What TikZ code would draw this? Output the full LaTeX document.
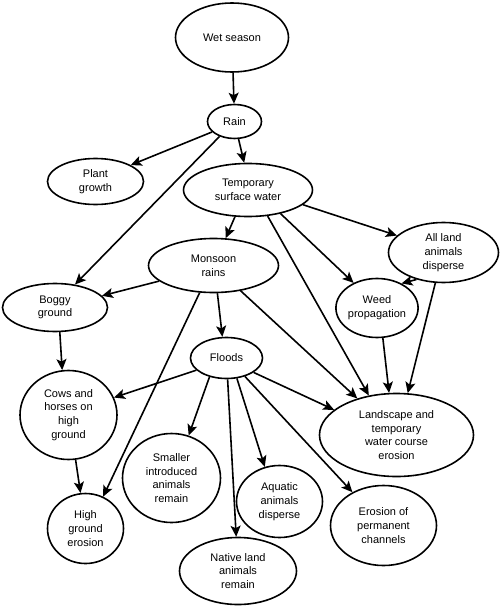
\documentclass[tikz,border=0pt]{standalone}
\usepackage{fontspec}
\setmainfont{Liberation Sans}
\usetikzlibrary{shapes.geometric,arrows.meta}

\begin{document}
\begin{tikzpicture}[x=1pt, y=-1pt, >={Stealth[length=11pt,width=10pt,inset=2.5pt]}, line width=1.6pt,
  every node/.style={ellipse, draw, inner sep=0pt, align=center, font=\fontsize{11}{13.7}\selectfont}]
  \useasboundingbox (0,0) rectangle (500,607);

  % --- upper part ---
  \node[minimum width=113pt, minimum height=69pt] (wet) at (232,37.5) {Wet season};
  \node[minimum width=54pt, minimum height=34pt] (rain) at (234.5,121.5) {Rain};
  \node[minimum width=96pt, minimum height=46pt] (plant) at (95.5,181.5) {Plant\\growth};
  \node[minimum width=129pt, minimum height=53pt] (temp) at (248,190) {Temporary\\surface water};
  \node[minimum width=110pt, minimum height=60pt] (alland) at (443.5,252.5) {All land\\animals\\disperse};
  \node[minimum width=130pt, minimum height=54pt] (monsoon) at (213.5,265.5) {Monsoon\\rains};
  \node[minimum width=105pt, minimum height=48pt] (boggy) at (55,307.5) {Boggy\\ground};
  \node[minimum width=81pt, minimum height=59pt] (weed) at (377,308) {Weed\\propagation};
  \node[minimum width=72pt, minimum height=41pt] (floods) at (226.5,358) {Floods};

  % --- lower part ---
  \node[minimum width=97pt, minimum height=89pt] (cows) at (68.5,415) {Cows and\\horses on\\high\\ground};
  \node[minimum width=154pt, minimum height=83pt] (landscape) at (396.5,435) {Landscape and\\temporary\\water course\\erosion};
  \node[minimum width=98pt, minimum height=89pt] (smaller) at (171.5,478) {Smaller\\introduced\\animals\\remain};
  \node[minimum width=86pt, minimum height=72pt] (aquatic) at (279.5,501.5) {Aquatic\\animals\\disperse};
  \node[minimum width=76pt, minimum height=70pt] (highero) at (85.5,528.5) {High\\ground\\erosion};
  \node[minimum width=117pt, minimum height=67pt] (native) at (238,571) {Native land\\animals\\remain};
  \node[minimum width=106pt, minimum height=80pt] (channels) at (383.5,525.5) {Erosion of\\permanent\\channels};

  % --- connectors ---
  \draw[->] (wet) -- (rain);
  \draw[->] (rain.205) -- (plant.25);
  \draw[->] (rain.283) -- (temp.98);
  \draw[->] (rain.225) -- (boggy.49);
  \draw[->] (temp.244) -- (monsoon.66);
  \draw[->] (temp.345) -- (alland.160);
  \draw[->] (temp.324) -- (weed.133);
  \draw[->] (temp.307) -- (landscape.125);
  \draw[->] (monsoon.196) -- (boggy.14);
  \draw[->] (monsoon.278) -- (floods.101);
  \draw[->] (monsoon.243) -- (highero.61);
  \draw[->] (monsoon.317) -- (landscape.137);
  \draw[->] (alland.225) -- (weed.45);
  \draw[->] (alland.255) -- (landscape.75);
  \draw[->] (weed.281) -- (landscape.100);
  \draw[->] (boggy.281) -- (cows.98);
  \draw[->] (floods.202) -- (cows.21);
  \draw[->] (floods.332) -- (landscape.158);
  \draw[->] (floods.228) -- (smaller.68);
  \draw[->] (floods.273) -- (native.93);
  \draw[->] (floods.297) -- (aquatic.113);
  \draw[->] (floods.315) -- (channels.133);
  \draw[->] (cows.279) -- (highero.98);
\end{tikzpicture}
\end{document}
